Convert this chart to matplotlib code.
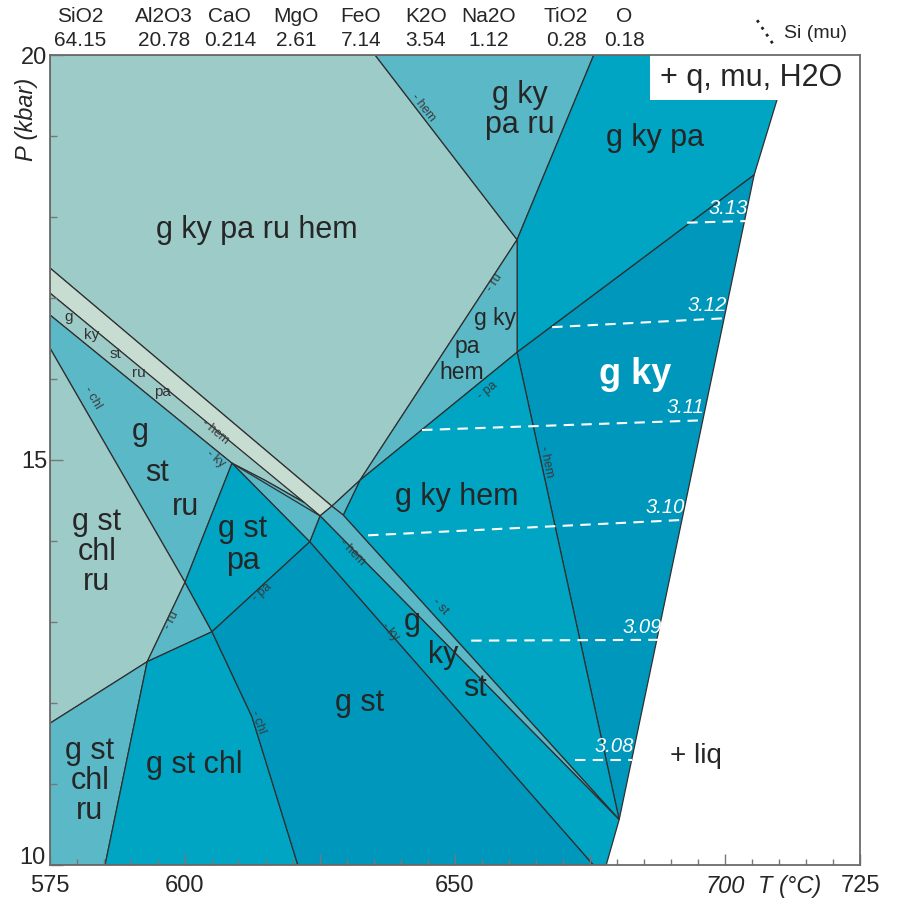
import matplotlib.pyplot as plt
from matplotlib.patches import Polygon, Rectangle

plt.rcParams['font.family'] = ['Liberation Sans', 'DejaVu Sans']
NARROW = ['Liberation Sans Narrow', 'Liberation Sans', 'DejaVu Sans']

# bulk composition
oxides = ['SiO2', 'Al2O3', 'CaO', 'MgO', 'FeO', 'K2O', 'Na2O', 'TiO2', 'O']
amounts = ['64.15', '20.78', '0.214', '2.61', '7.14', '3.54', '1.12', '0.28', '0.18']
oxide_x = [0.037, 0.141, 0.222, 0.304, 0.384, 0.464, 0.541, 0.637, 0.709]

# field outlines, (T degC, P kbar)
g_ky_pa_ru_hem = [(575, 20), (635.2, 20), (661.5, 17.72), (632.4, 14.75), (627.2, 14.43), (575, 17.37)]
g_ky_pa_ru = [(635.2, 20), (675.7, 20), (661.5, 17.72)]
g_ky_pa = [(675.7, 20), (712.2, 20), (709.6, 19.44), (705.4, 18.52), (661.5, 16.33), (661.5, 17.72)]
g_ky_pa_hem = [(661.5, 17.72), (661.5, 16.33), (632.4, 14.75)]
g_ky = [(661.5, 16.33), (705.4, 18.52), (680.4, 10.56)]
g_ky_hem = [(632.4, 14.75), (661.5, 16.33), (680.4, 10.56), (629.3, 14.32)]
wedge_top = [(632.4, 14.75), (629.3, 14.32), (627.2, 14.43)]
pale_band = [(575, 17.37), (627.2, 14.43), (625.0, 14.31), (575, 17.06)]
g_ky_st_hem = [(627.2, 14.43), (629.3, 14.32), (680.4, 10.56), (625.0, 14.31)]
g_ky_st = [(625.0, 14.31), (680.4, 10.56), (678.0, 10), (675.6, 10), (623.1, 13.99)]
thin_band = [(575, 17.06), (622.2, 14.47), (614.8, 14.75), (608.7, 14.96), (575, 16.79)]
wedge_mid = [(608.7, 14.96), (614.8, 14.75), (622.2, 14.47), (625.0, 14.31), (623.1, 13.99)]
g_st_ru = [(575, 16.79), (608.7, 14.96), (600.0, 13.49), (575, 16.38)]
g_st_chl_ru = [(575, 16.38), (600.0, 13.49), (593.0, 12.51), (575, 11.75)]
small_tri = [(600.0, 13.49), (605.0, 12.88), (593.0, 12.51)]
g_st_pa = [(608.7, 14.96), (623.1, 13.99), (605.0, 12.88), (600.0, 13.49)]
g_st_chl_ru_low = [(575, 11.75), (593.0, 12.51), (585.2, 10), (575, 10)]
g_st_chl = [(593.0, 12.51), (605.0, 12.88), (612.4, 11.83), (620.9, 10), (585.2, 10)]
g_st = [(605.0, 12.88), (623.1, 13.99), (675.6, 10), (620.9, 10), (612.4, 11.83)]
extra_line = [(608.7, 14.96), (625.0, 14.31)]

# Si per formula unit in muscovite
si_mu = ['3.08', '3.09', '3.10', '3.11', '3.12', '3.13']
iso_T = [(672.2, 682.8), (653.0, 688.0), (633.9, 692.2), (643.9, 695.9), (668.0, 700.0), (693.0, 704.0)]
iso_P = [(11.30, 11.30), (12.77, 12.78), (14.07, 14.26), (15.37, 15.49), (16.64, 16.75), (17.93, 17.95)]

LIGHT = '#9dcbc8'
PALE = '#c8ddd2'
MID = '#5bb8c7'
CYAN = '#00a5c3'
DARK = '#0097bc'
EDGE = '#303030'

fields = [
    (g_ky_pa_ru_hem, LIGHT), (g_ky_pa_ru, MID), (g_ky_pa, CYAN), (g_ky_pa_hem, MID),
    (g_ky, DARK), (g_ky_hem, CYAN), (wedge_top, MID), (pale_band, PALE),
    (g_ky_st_hem, MID), (g_ky_st, CYAN), (thin_band, LIGHT), (wedge_mid, MID),
    (g_st_ru, MID), (g_st_chl_ru, LIGHT), (small_tri, MID), (g_st_pa, CYAN),
    (g_st_chl_ru_low, MID), (g_st_chl, CYAN), (g_st, DARK),
]

fig = plt.figure(figsize=(9.04, 8.99), dpi=100)
ax = fig.add_axes([50 / 904, 34 / 899, 810 / 904, 810 / 899])
ax.set_xlim(575, 725)
ax.set_ylim(10, 20)

for verts, col in fields:
    ax.add_patch(Polygon(verts, closed=True, facecolor=col, edgecolor=EDGE,
                         linewidth=0.9, joinstyle='miter'))
ax.plot(*zip(*extra_line), color=EDGE, lw=0.9)

# isopleths
for lab, t, p in zip(si_mu, iso_T, iso_P):
    ax.plot(t, p, color='white', lw=1.5, dashes=(5, 3.5))
    ax.text(t[1] + 0.3, p[1] + 0.04, lab, color='white', fontsize=14.5,
            style='italic', ha='right', va='bottom')

# field names
big = dict(fontsize=22, color='#262626', ha='center', va='center')
ax.text(613.3, 17.84, 'g ky pa ru hem', **big)
ax.text(662.0, 19.32, 'g ky\npa ru', linespacing=1.0, **big)
ax.text(687.0, 18.98, 'g ky pa', **big)
ax.text(650.4, 14.54, 'g ky hem', **big)
ax.text(610.7, 13.95, 'g st\npa', linespacing=1.05, **big)
ax.text(632.4, 12.0, 'g st', **big)
ax.text(601.7, 11.23, 'g st chl', **big)
ax.text(583.7, 13.86, 'g st\nchl\nru', linespacing=1.0, **big)
ax.text(582.4, 11.04, 'g st\nchl\nru', linespacing=1.0, **big)
ax.text(694.6, 11.35, '+ liq', fontsize=20, color='#262626', ha='center', va='center')
ax.text(591.7, 15.35, 'g', **big)
ax.text(594.8, 14.84, 'st', **big)
ax.text(600.0, 14.42, 'ru', **big)
ax.text(642.0, 13.0, 'g', **big)
ax.text(647.8, 12.59, 'ky', **big)
ax.text(653.7, 12.19, 'st', **big)
mid = dict(fontsize=16.5, color='#262626', ha='center', va='center')
ax.text(657.4, 16.75, 'g ky', **mid)
ax.text(652.2, 16.40, 'pa', **mid)
ax.text(651.3, 16.08, 'hem', **mid)
ax.text(683.3, 16.05, 'g ky', fontsize=26, fontweight='bold', color='white',
        ha='center', va='center')

small = dict(fontsize=11, color='#333333', ha='center', va='center')
for s, t, p in [('g', 578.5, 16.77), ('ky', 582.8, 16.54), ('st', 587.2, 16.31),
                ('ru', 591.5, 16.07), ('pa', 595.9, 15.84)]:
    ax.text(t, p, s, **small)

tiny = dict(fontsize=9, color='#3a3a3a', ha='center', va='center')
for s, t, p, r in [('- hem', 644.1, 19.35, -52), ('- ru', 657.4, 17.19, 57),
                   ('- pa', 656.1, 15.86, 39), ('- hem', 666.9, 14.98, -78),
                   ('- chl', 582.8, 15.77, -60), ('- hem', 605.6, 15.35, -40),
                   ('- ky', 605.6, 15.02, -40), ('- hem', 630.9, 13.86, -46),
                   ('- st', 647.2, 13.19, -48), ('- ky', 638.0, 12.88, -49),
                   ('- pa', 614.3, 13.36, 42), ('- ru', 597.6, 13.02, 63),
                   ('- chl', 613.5, 11.77, -70)]:
    ax.text(t, p, s, rotation=r, **tiny)

# assemblage note box
ax.add_patch(Rectangle((0.741, 0.944), 0.259, 0.056, transform=ax.transAxes,
                       facecolor='white', edgecolor='none', zorder=3))
ax.text(0.865, 0.972, '+ q, mu, H2O', transform=ax.transAxes, fontsize=22,
        color='#262626', ha='center', va='center', zorder=4)

# composition header
for name, val, x in zip(oxides, amounts, oxide_x):
    ax.text(x, 1.047, name, transform=ax.transAxes, fontsize=15, color='#262626',
            ha='center', va='center')
    ax.text(x, 1.0185, val, transform=ax.transAxes, fontsize=15, color='#262626',
            ha='center', va='center')

# isopleth key
ax.plot([0.873, 0.895], [1.043, 1.010], transform=ax.transAxes, color='#222222',
        lw=2, linestyle=(0, (1, 2)), clip_on=False)
ax.text(0.945, 1.027, 'Si (mu)', transform=ax.transAxes, fontsize=14,
        color='#262626', ha='center', va='center')

# axes
ax.set_xticks([575, 600, 625, 650, 675, 700, 725])
ax.set_xticklabels(['575', '600', '', '650', '', '700', '725'])
ax.set_xticks(range(575, 726, 5), minor=True)
ax.set_yticks([10, 15, 20])
ax.set_yticklabels(['', '15', '20'])
ax.set_yticks(range(10, 21), minor=True)
ax.tick_params(which='both', direction='in', color='#777777', width=1,
               labelsize=17, labelcolor='#262626')
ax.tick_params(axis='x', which='major', length=8, pad=7)
ax.tick_params(axis='x', which='minor', length=4.3)
ax.tick_params(axis='y', which='major', length=9.4, pad=2)
ax.tick_params(axis='y', which='minor', length=5)
for lab in ax.get_xticklabels() + ax.get_yticklabels():
    lab.set_family(NARROW)
ax.get_xticklabels()[5].set_style('italic')
# bottom pressure label sits a little higher so it clears the 575 label
ax.text(-0.005, 10.09, '10', transform=ax.get_yaxis_transform(), fontsize=17,
        family=NARROW, color='#262626', ha='right', va='center')

ax.text(712.0, -0.027, 'T (°C)', transform=ax.get_xaxis_transform(),
        fontsize=17, family=NARROW, style='italic', color='#262626',
        ha='center', va='center')
ax.text(-0.029, 0.92, 'P (kbar)', transform=ax.transAxes, rotation=90,
        fontsize=17, family=NARROW, style='italic', color='#262626',
        ha='center', va='center')

for sp in ax.spines.values():
    sp.set_color('#6b6b6b')
    sp.set_linewidth(1.3)
    sp.set_zorder(5)

fig.savefig('out.png', dpi=100)
